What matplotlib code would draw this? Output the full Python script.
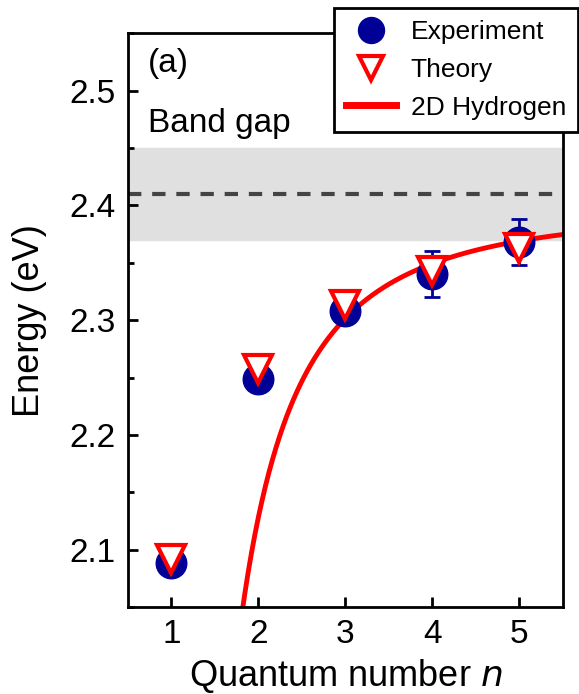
import matplotlib.pyplot as plt
import numpy as np
from matplotlib.lines import Line2D
from matplotlib.ticker import MultipleLocator

plt.rcParams['font.family'] = ['Liberation Sans', 'DejaVu Sans']

# measured exciton energies (eV)
n_exp = [1, 2, 3, 4, 5]
e_exp = [2.088, 2.249, 2.308, 2.340, 2.368]
e_err = [0.003, 0.003, 0.004, 0.020, 0.020]

# calculated energies (eV)
n_theory = [1, 2, 3, 4, 5]
e_theory = [2.092, 2.257, 2.313, 2.343, 2.363]

# 2D hydrogen model parameters: E = Eg - Ry / (n - 1/2)^2
eg_fit = 2.399
ry_fit = 0.609

# band gap and its uncertainty range
band_gap = 2.41
band_lo, band_hi = 2.37, 2.45

blue = '#000096'
red = '#ff0000'

fig = plt.figure(figsize=(5.79, 6.94), dpi=100)
ax = fig.add_axes([0.221, 0.1254, 0.751, 0.8266])

ax.axhspan(band_lo, band_hi, color='#e0e0e0', zorder=0)
ax.axhline(band_gap, color='#444444', lw=3, ls=(0, (3.2, 2.6)), zorder=1)

n_fine = np.linspace(1.6, 5.6, 300)
ax.plot(n_fine, eg_fit - ry_fit / (n_fine - 0.5) ** 2, color=red, lw=3.5,
        zorder=2)

ax.errorbar(n_exp, e_exp, yerr=e_err, fmt='o', color=blue, ms=22,
            ecolor=blue, elinewidth=2, capsize=6, capthick=2, zorder=3)
ax.plot(n_theory, e_theory, 'v', ms=20, mfc='white', mec=red, mew=3,
        zorder=4)

ax.set_xlim(0.5, 5.5)
ax.set_ylim(2.05, 2.55)
ax.set_xticks([1, 2, 3, 4, 5])
ax.set_yticks([2.1, 2.2, 2.3, 2.4, 2.5])
ax.yaxis.set_minor_locator(MultipleLocator(0.05))
ax.tick_params(which='both', direction='in', width=2, labelsize=24, pad=9)
ax.tick_params(which='major', length=7)
ax.tick_params(which='minor', length=4)
ax.tick_params(axis='x', which='minor', bottom=False)
for s in ax.spines.values():
    s.set_linewidth(2)

ax.set_xlabel('Quantum number $n$', fontsize=26, labelpad=5)
ax.set_ylabel('Energy (eV)', fontsize=26, labelpad=16)

ax.text(0.045, 0.975, '(a)', transform=ax.transAxes, fontsize=24, va='top')
ax.text(0.045, 0.87, 'Band gap', transform=ax.transAxes, fontsize=24,
        va='top')

handles = [
    Line2D([], [], ls='none', marker='o', ms=22, color=blue),
    Line2D([], [], ls='none', marker='v', ms=20, mfc='white', mec=red, mew=3),
    Line2D([], [], color=red, lw=5),
]
leg = fig.legend(handles, ['Experiment', 'Theory', '2D Hydrogen'],
                 loc='upper left', bbox_to_anchor=(0.577, 0.988),
                 fontsize=19, frameon=True, fancybox=False,
                 edgecolor='black', framealpha=1, borderpad=0.45,
                 labelspacing=0.52, handlelength=1.9, handletextpad=0.55,
                 markerscale=0.85, borderaxespad=0)
leg.get_frame().set_linewidth(2)

fig.savefig('out.png', dpi=100)
